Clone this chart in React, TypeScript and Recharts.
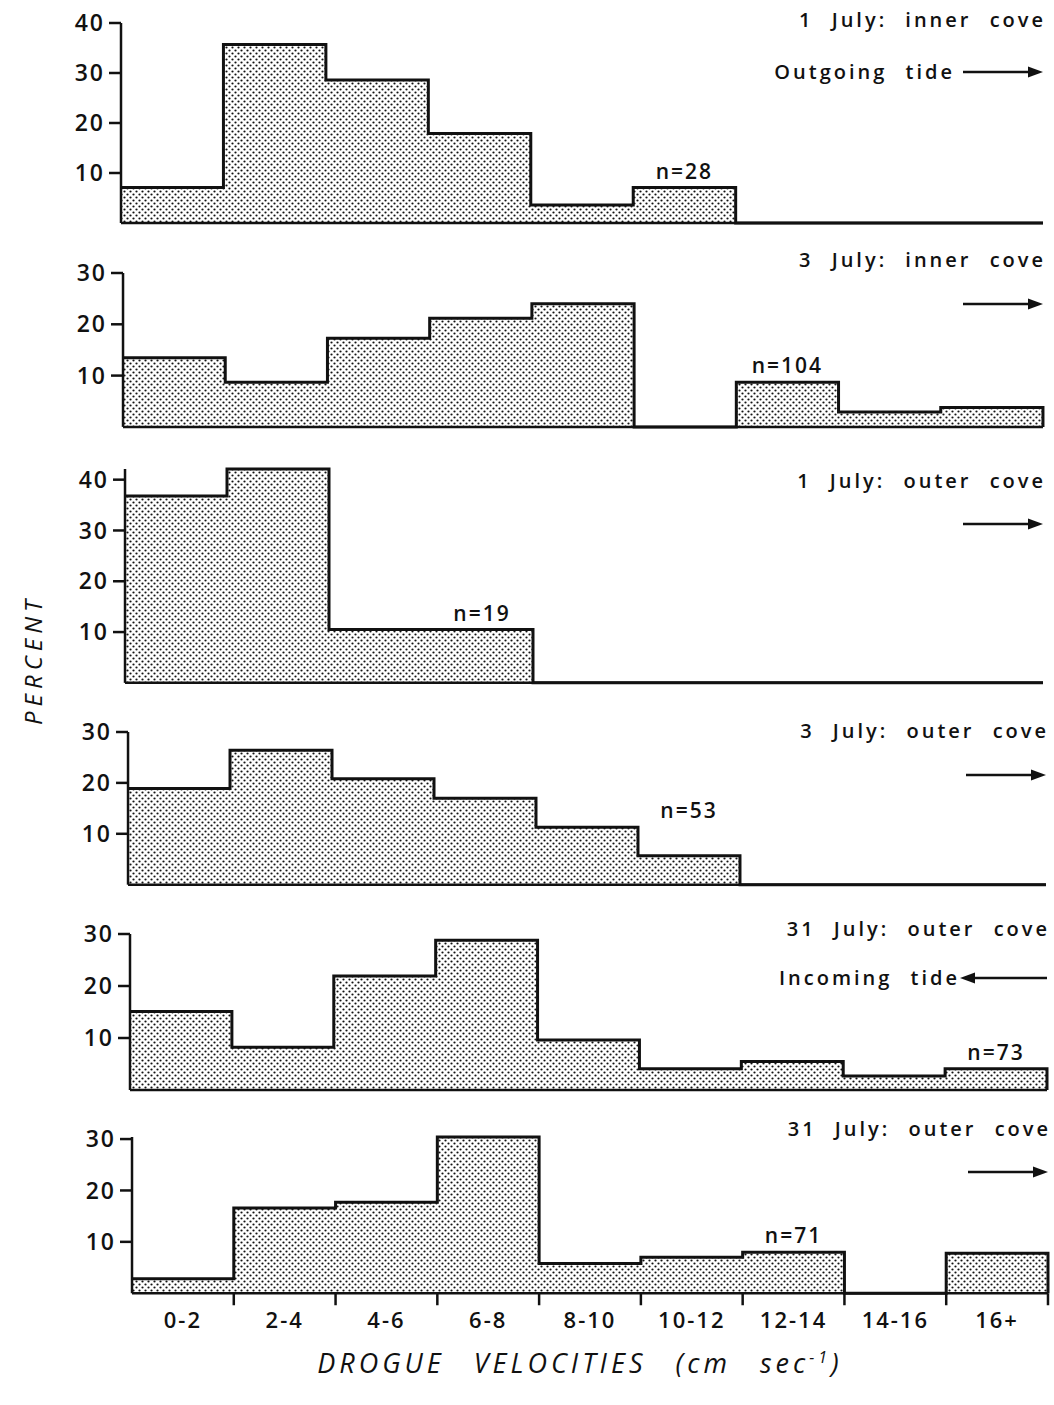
import React from 'react';
import { AreaChart, Area, XAxis, YAxis, ReferenceDot } from 'recharts';

const FONT = '"Open Sans", "DejaVu Sans", sans-serif';
const INK = '#111';

// velocity bins (cm/s)
const CATEGORIES = ['0-2', '2-4', '4-6', '6-8', '8-10', '10-12', '12-14', '14-16', '16+'];

// percent of drogues per bin
const july1Inner = [7.1, 35.7, 28.6, 17.9, 3.6, 7.1, 0, 0, 0];
const july3Inner = [13.5, 8.7, 17.3, 21.2, 24.0, 0, 8.7, 2.9, 3.8];
const july1Outer = [36.8, 42.1, 10.5, 10.5, 0, 0, 0, 0, 0];
const july3Outer = [18.9, 26.4, 20.8, 17.0, 11.3, 5.7, 0, 0, 0];
const july31Incoming = [15.1, 8.2, 21.9, 28.8, 9.6, 4.1, 5.5, 2.7, 4.1];
const july31Outgoing = [2.8, 16.6, 17.7, 30.4, 5.8, 7.0, 8.0, 0, 7.8];

const titles = [
  '1 July: inner cove',
  '3 July: inner cove',
  '1 July: outer cove',
  '3 July: outer cove',
  '31 July: outer cove',
  '31 July: outer cove',
];

// sample size and the bin it is written over
const sampleSizes = [
  { n: 28, bin: 5 },
  { n: 104, bin: 6 },
  { n: 19, bin: 3 },
  { n: 53, bin: 5 },
  { n: 73, bin: 8 },
  { n: 71, bin: 6 },
];

const yTicks40 = [10, 20, 30, 40];
const yTicks30 = [10, 20, 30];

// layout of each panel on the page (scan is slightly skewed)
const panels = [
  { values: july1Inner, ticks: yTicks40, axisX: 121, rightX: 1043, base: 223, k: 5.0, titleY: 20, arrowY: 72, tide: 'Outgoing tide', dir: 1 },
  { values: july3Inner, ticks: yTicks30, axisX: 123, rightX: 1043, base: 427, k: 5.13, titleY: 260, arrowY: 304, dir: 1 },
  { values: july1Outer, ticks: yTicks40, axisX: 125, rightX: 1043, base: 683, k: 5.08, titleY: 481, arrowY: 524, dir: 1 },
  { values: july3Outer, ticks: yTicks30, axisX: 128, rightX: 1046, base: 885, k: 5.09, titleY: 731, arrowY: 775, dir: 1 },
  { values: july31Incoming, ticks: yTicks30, axisX: 130, rightX: 1047, base: 1089.5, k: 5.2, titleY: 929, arrowY: 978, tide: 'Incoming tide', dir: -1 },
  { values: july31Outgoing, ticks: yTicks30, axisX: 132, rightX: 1048, base: 1293.5, k: 5.14, titleY: 1129, arrowY: 1172, dir: 1 },
];

const binTicks = CATEGORIES.flatMap((_, i) => [i + 0.5, i + 1]);

const BinTick = (props: any) => {
  const { x, y, payload } = props;
  const v = payload.value as number;
  if (Number.isInteger(v)) {
    return <line x1={x} y1={y} x2={x} y2={y + 12} stroke={INK} strokeWidth={2.5} />;
  }
  return (
    <text x={x} y={y + 35} textAnchor="middle" fill={INK} fontSize={22} fontWeight={600} fontFamily={FONT} letterSpacing={2}>
      {CATEGORIES[Math.floor(v)]}
    </text>
  );
};

const Arrow = ({ x1, x2, y, dir }: { x1: number; x2: number; y: number; dir: number }) => {
  const w = x2 - x1;
  return (
    <svg style={{ position: 'absolute', left: x1, top: y - 7 }} width={w} height={14}>
      {dir > 0 ? (
        <>
          <line x1={0} y1={7} x2={w - 10} y2={7} stroke={INK} strokeWidth={2.5} />
          <polygon points={`${w - 15},1.5 ${w},7 ${w - 15},12.5`} fill={INK} />
        </>
      ) : (
        <>
          <line x1={10} y1={7} x2={w} y2={7} stroke={INK} strokeWidth={2.5} />
          <polygon points={`15,1.5 0,7 15,12.5`} fill={INK} />
        </>
      )}
    </svg>
  );
};

function Panel({ idx }: { idx: number }) {
  const p = panels[idx];
  const isBottom = idx === panels.length - 1;
  const rows = p.values.map((v, i) => ({ x: i, v }));
  rows.push({ x: CATEGORIES.length, v: p.values[p.values.length - 1] });
  rows.push({ x: CATEGORIES.length, v: 0 });

  const dMax = Math.max(p.ticks[p.ticks.length - 1], ...p.values);
  const plotH = dMax * p.k;
  const mt = 16;
  const xH = isBottom ? 50 : 2;
  const yW = 70;
  const note = sampleSizes[idx];
  const noteLevel = Math.max(p.values[note.bin], note.bin > 0 ? p.values[note.bin - 1] : 0);

  return (
    <div style={{ position: 'absolute', left: 0, top: p.base - plotH - mt }}>
      <AreaChart
        width={1054}
        height={mt + plotH + xH}
        data={rows}
        margin={{ top: mt, right: 1054 - p.rightX, bottom: 0, left: p.axisX - yW }}
      >
        <defs>
          <pattern id={`dots${idx}`} patternUnits="userSpaceOnUse" width={6} height={6}>
            <rect width={6} height={6} fill="#fff" />
            <circle cx={1.5} cy={1.5} r={1.1} fill="#111" />
            <circle cx={4.5} cy={4.5} r={1.1} fill="#111" />
          </pattern>
        </defs>
        <XAxis
          xAxisId="bins"
          type="number"
          dataKey="x"
          domain={[0, CATEGORIES.length]}
          ticks={isBottom ? binTicks : []}
          interval={0}
          height={xH}
          tick={isBottom ? <BinTick /> : false}
          tickLine={false}
          tickSize={0}
          tickMargin={0}
          axisLine={{ stroke: INK, strokeWidth: 2.5 }}
        />
        <YAxis
          type="number"
          domain={[0, dMax]}
          ticks={p.ticks}
          interval={0}
          width={yW}
          tickSize={12}
          tickMargin={4}
          axisLine={{ stroke: INK, strokeWidth: 2.5 }}
          tickLine={{ stroke: INK, strokeWidth: 2.5 }}
          tick={{ fill: INK, fontSize: 23, fontWeight: 600, fontFamily: FONT, letterSpacing: 2 }}
        />
        <Area
          xAxisId="bins"
          type="stepAfter"
          dataKey="v"
          stroke={INK}
          strokeWidth={3}
          fill={`url(#dots${idx})`}
          fillOpacity={1}
          dot={false}
          activeDot={false}
          isAnimationActive={false}
        />
        <ReferenceDot
          xAxisId="bins"
          x={note.bin + 0.5}
          y={noteLevel}
          r={0}
          stroke="none"
          fill="none"
          label={{
            value: `n=${note.n}`,
            position: 'top',
            offset: 9,
            fill: INK,
            fontSize: 21,
            fontWeight: 600,
            fontFamily: FONT,
            letterSpacing: 2,
          }}
        />
      </AreaChart>
    </div>
  );
}

const textStyle: React.CSSProperties = {
  position: 'absolute',
  fontFamily: FONT,
  fontWeight: 600,
  fontSize: 20,
  letterSpacing: 3,
  wordSpacing: 10,
  color: INK,
  whiteSpace: 'nowrap',
  lineHeight: '24px',
};

export default function App() {
  return (
    <div style={{ position: 'absolute', left: 0, top: 0, width: 1054, height: 1405, background: '#fff', overflow: 'hidden' }}>
      {panels.map((p, i) => (
        <Panel key={i} idx={i} />
      ))}

      {panels.map((p, i) => (
        <React.Fragment key={`t${i}`}>
          <div style={{ ...textStyle, right: 1054 - p.rightX - 3, top: p.titleY - 12 }}>{titles[i]}</div>
          {p.tide && (
            <div style={{ ...textStyle, right: 1054 - (p.dir > 0 ? 955 : 960), top: p.arrowY - 12 }}>{p.tide}</div>
          )}
          <Arrow x1={p.dir > 0 ? p.rightX - 80 : 960} x2={p.rightX} y={p.arrowY} dir={p.dir} />
        </React.Fragment>
      ))}

      <div
        style={{
          position: 'absolute',
          left: 32,
          top: 660,
          transform: 'translate(-50%, -50%) rotate(-90deg)',
          fontFamily: FONT,
          fontStyle: 'italic',
          fontSize: 24,
          letterSpacing: 5,
          color: INK,
          whiteSpace: 'nowrap',
        }}
      >
        PERCENT
      </div>

      <div
        style={{
          position: 'absolute',
          left: 580,
          top: 1362,
          transform: 'translate(-50%, -50%)',
          fontFamily: FONT,
          fontStyle: 'italic',
          fontSize: 27,
          letterSpacing: 4,
          wordSpacing: 18,
          color: INK,
          whiteSpace: 'nowrap',
        }}
      >
        DROGUE VELOCITIES (cm sec<sup style={{ fontSize: 16 }}>-1</sup>)
      </div>
    </div>
  );
}
